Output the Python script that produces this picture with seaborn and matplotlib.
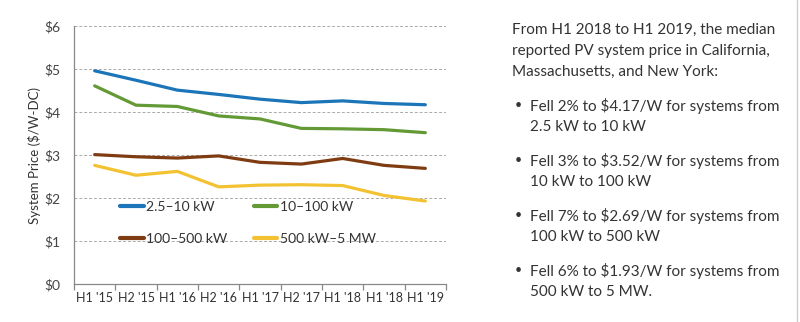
import matplotlib
matplotlib.use("Agg")
import matplotlib.pyplot as plt
import seaborn as sns
import pandas as pd
import numpy as np

periods = ["H1 '15", "H2 '15", "H1 '16", "H2 '16", "H1 '17", "H2 '17", "H1 '18", "H1 '18", "H1 '19"]
s_small = [4.96, 4.74, 4.51, 4.41, 4.30, 4.22, 4.26, 4.20, 4.17]
s_mid = [4.61, 4.16, 4.13, 3.91, 3.84, 3.62, 3.61, 3.59, 3.52]
s_large = [3.01, 2.96, 2.93, 2.98, 2.83, 2.79, 2.92, 2.76, 2.69]
s_util = [2.76, 2.53, 2.62, 2.26, 2.30, 2.31, 2.29, 2.06, 1.93]
series_names = ["2.5–10 kW", "10–100 kW", "100–500 kW", "500 kW–5 MW"]
colors = ["#1B75B8", "#639A36", "#7F3C12", "#F3C232"]
y_ticks = [0, 1, 2, 3, 4, 5, 6]
y_labels = ["$0", "$1", "$2", "$3", "$4", "$5", "$6"]
y_title = "System Price ($/W-DC)"
side_intro = ["From H1 2018 to H1 2019, the median",
              "reported PV system price in California,",
              "Massachusetts, and New York:"]
side_bullets = [
    ["Fell 2% to $4.17/W for systems from", "2.5 kW to 10 kW"],
    ["Fell 3% to $3.52/W for systems from", "10 kW to 100 kW"],
    ["Fell 7% to $2.69/W for systems from", "100 kW to 500 kW"],
    ["Fell 6% to $1.93/W for systems from", "500 kW to 5 MW."],
]

sns.set_theme(style="white")
plt.rcParams["font.family"] = ["Lato", "DejaVu Sans"]

rows = []
for name, vals in zip(series_names, [s_small, s_mid, s_large, s_util]):
    for i, v in enumerate(vals):
        rows.append({"idx": i, "price": v, "series": name})
df = pd.DataFrame(rows)

fig = plt.figure(figsize=(8, 3.22), dpi=100)
ax = fig.add_axes([0.0925, 0.118, 0.465, 0.801])

sns.lineplot(data=df, x="idx", y="price", hue="series", hue_order=series_names,
             palette=colors, linewidth=2.3, ax=ax, legend=True)

ax.set_xlim(-0.5, len(periods) - 0.5)
ax.set_ylim(0, 6)
ax.set_yticks(y_ticks)
ax.set_yticklabels(y_labels)
ax.set_xticks(np.arange(-0.5, len(periods), 1.0))
ax.set_xticklabels([])
ax.set_xticks(np.arange(len(periods)), minor=True)
ax.set_xticklabels(periods, minor=True)
ax.tick_params(axis="x", which="major", direction="out", length=4, width=0.9, color="#888888", bottom=True)
ax.tick_params(axis="x", which="minor", length=0, labelsize=9, labelcolor="#333333", pad=6)
ax.tick_params(axis="y", length=0, labelsize=10, labelcolor="#444444", pad=10)
ax.set_xlabel("")
ax.set_ylabel(y_title, fontsize=9.5, color="#333333", labelpad=2)
ax.grid(axis="y", linestyle=(0, (3, 2)), color="#aaaaaa", linewidth=0.7)
ax.set_axisbelow(True)
for s in ["top", "right"]:
    ax.spines[s].set_visible(False)
for s in ["left", "bottom"]:
    ax.spines[s].set_color("#888888")
    ax.spines[s].set_linewidth(0.9)

handles, labels = ax.get_legend_handles_labels()
for h in handles:
    h.set_linewidth(3)
order = [0, 2, 1, 3]
ax.legend([handles[i] for i in order], [labels[i] for i in order], ncol=2,
          loc="upper left", bbox_to_anchor=(0.11, 0.345),
          frameon=False, fontsize=10, handlelength=1.7, handletextpad=0.15,
          columnspacing=1.9, labelspacing=1.45, borderaxespad=0)
for t in ax.get_legend().get_texts():
    t.set_color("#333333")

tc = "#333333"
fs = 11.0
for k, line in enumerate(side_intro):
    fig.text(0.64, 1 - (30 + 21 * k) / 322, line, fontsize=fs, color=tc, va="center", ha="left")
bullet_y = [106, 161, 216, 271]
for y, lines in zip(bullet_y, side_bullets):
    fig.text(0.643, 1 - (y - 1) / 322, "•", fontsize=9, color=tc, va="center", ha="left")
    for k, line in enumerate(lines):
        fig.text(0.662, 1 - (y + 21 * k) / 322, line, fontsize=fs, color=tc, va="center", ha="left")

fig.add_artist(plt.Line2D([0.9965, 0.9965], [0, 1], color="#cccccc", linewidth=1, transform=fig.transFigure))

fig.savefig("out.png", dpi=100)
